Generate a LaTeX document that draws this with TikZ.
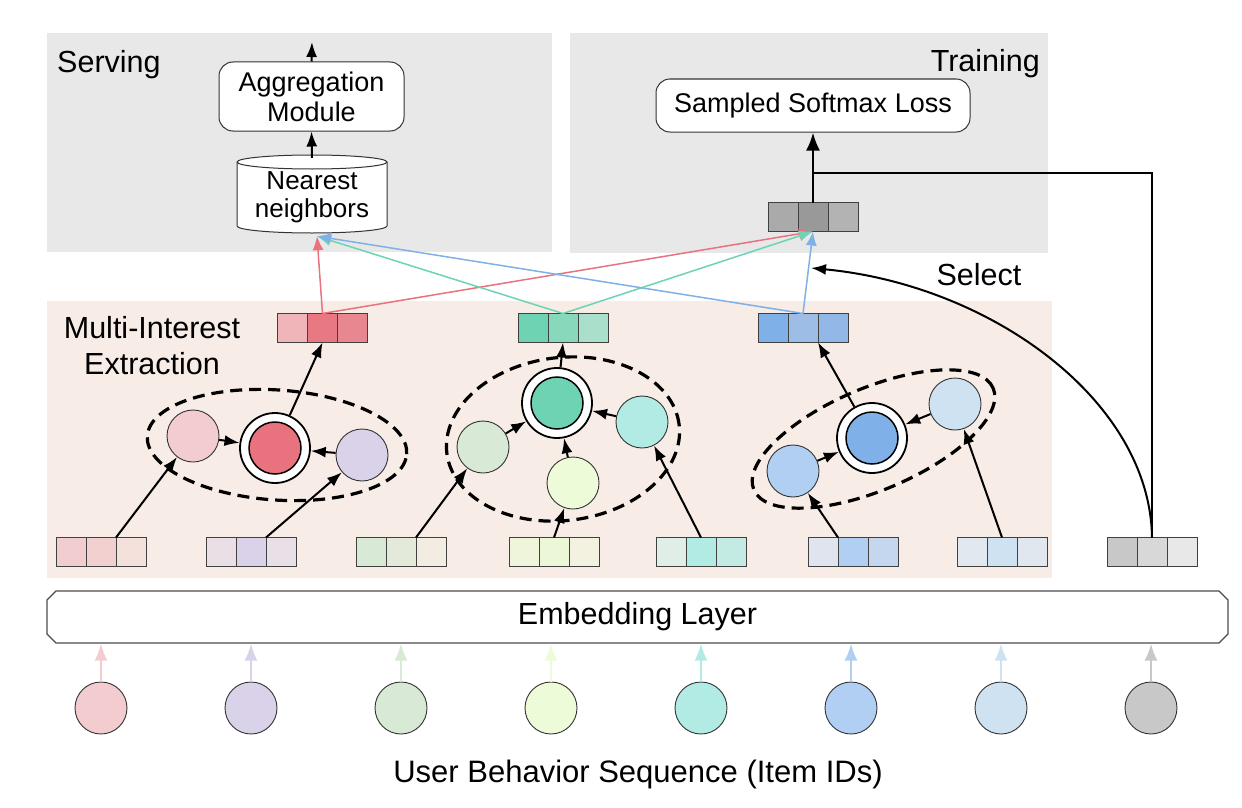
\documentclass[tikz,border=0pt]{standalone}
\usepackage{fontspec}
\setmainfont{Liberation Sans}
\usepackage{tikz}
\usetikzlibrary{arrows.meta,shapes.geometric,shapes.misc}

\definecolor{panelgray}{HTML}{E8E8E8}
\definecolor{peach}{HTML}{F7ECE6}
\definecolor{itemA}{HTML}{F2CCCF}
\definecolor{itemB}{HTML}{D9D2E9}
\definecolor{itemC}{HTML}{D8EAD5}
\definecolor{itemD}{HTML}{EEFBD9}
\definecolor{itemE}{HTML}{B2EAE4}
\definecolor{itemF}{HTML}{B1CFF2}
\definecolor{itemG}{HTML}{CFE2F1}
\definecolor{itemH}{HTML}{C8C8C8}
\definecolor{capR}{HTML}{E8737F}
\definecolor{capG}{HTML}{6DD3B3}
\definecolor{capB}{HTML}{80B0E8}

\tikzset{
  cell/.style={draw=black!75, line width=1pt, minimum width=30, minimum height=29, inner sep=0, outer sep=0},
  item/.style={circle, draw=black!80, line width=0.9pt, minimum size=52, inner sep=0},
  capring/.style={circle, draw, line width=1.8pt, fill=white, minimum size=70, inner sep=0},
  capcore/.style={circle, draw, line width=1.5pt, minimum size=52, inner sep=0},
  cluster/.style={ellipse, draw, line width=3.2pt, dash pattern=on 12pt off 7pt, inner sep=0},
  arr/.style={line width=2pt, -{Latex[length=15pt,width=11pt]}},
  carr/.style={line width=1.5pt, -{Latex[length=14pt,width=11pt]}},
  box/.style={draw=black!80, rounded corners=14pt, fill=white, line width=1pt, align=center, font=\fontsize{27}{30}\selectfont},
  big/.style={font=\fontsize{30.5}{36}\selectfont, inner sep=0},
}

\newcommand{\vecbox}[5]{%
  \definecolor{#1A}{HTML}{#3}\definecolor{#1B}{HTML}{#4}\definecolor{#1C}{HTML}{#5}%
  \node[cell, fill=#1B] (#1-2) at (#2) {};
  \node[cell, fill=#1A, anchor=east] (#1-1) at (#1-2.west) {};
  \node[cell, fill=#1C, anchor=west] (#1-3) at (#1-2.east) {};
}

\begin{document}
\begin{tikzpicture}[x=1pt, y=-1pt]
\useasboundingbox (0,0) rectangle (1242,808);
\fill[panelgray] (47,33) rectangle (552,252);
\fill[panelgray] (570,33) rectangle (1048,253);
\fill[peach] (47,301) rectangle (1052,578);

\node[big, anchor=base west] (serving) at (57,73) {Serving};
\node[big, anchor=base east] (training) at (1040,72) {Training};
\node[big, align=center] (mie) at (152,346) {Multi-Interest\\Extraction};

% serving
\node[box, minimum width=185, minimum height=69] (agg) at (311.5,96.5) {Aggregation\\Module};
\coordinate (aggout) at (312,42);
\draw[fill=white, line width=1pt, draw=black!80] (237,162) -- (237,226) arc[start angle=180, end angle=360, x radius=75pt, y radius=7pt] -- (387,162) arc[start angle=0, end angle=180, x radius=75pt, y radius=7pt] -- cycle;
\draw[line width=1pt, draw=black!80] (237,162) arc[start angle=180, end angle=360, x radius=75pt, y radius=7pt];
\node[font=\fontsize{26}{28}\selectfont, align=center, minimum width=150, minimum height=78, inner sep=0] (nn) at (312,197) {Nearest\\neighbors};
\draw[arr] (nn.north) -- (agg.south);
\draw[arr] (agg.north) -- (aggout);

% training
\node[box, minimum width=314, minimum height=53] (loss) at (813,105.5) {Sampled Softmax Loss};
\vecbox{tv}{813,217}{AAAAAA}{999999}{B3B3B3}
\draw[line width=2.5pt, -{Latex[length=18pt,width=14pt]}] (tv-2.north) -- (loss.south);

% interests
\vecbox{rv}{322.5,328}{F0B5B8}{E87882}{E8878F}
\vecbox{gv}{563,328}{6DD3B3}{88D9BB}{AADFCB}
\vecbox{bv}{803,328}{7FB0E8}{9DBDE6}{91B8E6}

\node[cluster, minimum width=260, minimum height=110, rotate=-4] (cl1) at (277,445) {};
\node[cluster, minimum width=234, minimum height=163, rotate=7] (cl2) at (563,439) {};
\node[cluster, minimum width=260, minimum height=102, rotate=23] (cl3) at (873.5,439) {};

\node[item, fill=itemA] (p1) at (193,436) {};
\node[item, fill=itemB] (p2) at (362,455) {};
\node[capring] (cap1) at (275,448) {};
\node[capcore, fill=capR] (cap1c) at (275,448) {};

\node[item, fill=itemC] (g1) at (483,447) {};
\node[item, fill=itemD] (g2) at (573,483) {};
\node[item, fill=itemE] (g3) at (642,422) {};
\node[capring] (cap2) at (557,403) {};
\node[capcore, fill=capG] (cap2c) at (557,403) {};

\node[item, fill=itemF] (b1) at (793,471) {};
\node[item, fill=itemG] (b2) at (955,404) {};
\node[capring] (cap3) at (872,438) {};
\node[capcore, fill=capB] (cap3c) at (872,438) {};

\draw[arr] (p1) -- (cap1);
\draw[arr] (p2) -- (cap1);
\draw[arr] (cap1) -- (rv-2.south);
\draw[arr] (g1) -- (cap2);
\draw[arr] (g2) -- (cap2);
\draw[arr] (g3) -- (cap2);
\draw[arr] (cap2) -- (gv-2.south);
\draw[arr] (b1) -- (cap3);
\draw[arr] (b2) -- (cap3);
\draw[arr] (cap3) -- (bv-2.south east);

\vecbox{v1}{101,552}{F2CDD0}{F2D0D0}{F5E1DB}
\vecbox{v2}{251,552}{EBDFE6}{D9D2E9}{E8DFE7}
\vecbox{v3}{401,552}{D8EAD5}{E3EAD9}{F3EDE1}
\vecbox{v4}{554,552}{EFF5DB}{EBF7D6}{F3F2E1}
\vecbox{v5}{701,552}{E0EEE8}{B2EAE4}{C4EBE3}
\vecbox{v6}{853,552}{E0E4EE}{B1CFF2}{C4D7EE}
\vecbox{v7}{1002,552}{E2E8EF}{CFE2F1}{E0E7EF}
\vecbox{v8}{1152,552}{C8C8C8}{D8D8D8}{E8E8E8}

\draw[arr] (v1-2.north east) -- (p1);
\draw[arr] (v2-2.north east) -- (p2);
\draw[arr] (v3-2.north east) -- (g1);
\draw[arr] (v4-2.north) -- (g2);
\draw[arr] (v5-2.north) -- (g3);
\draw[arr] (v6-2.north west) -- (b1);
\draw[arr] (v7-2.north) -- (b2);

\draw[carr, capR] (rv-2.north) -- ([xshift=5pt]nn.south);
\draw[carr, capR] (rv-2.north) -- (tv-2.south);
\draw[carr, capG] (gv-2.north) -- ([xshift=5pt]nn.south);
\draw[carr, capG] (gv-2.north) -- (tv-2.south);
\draw[carr, capB] (bv-2.north) -- ([xshift=5pt]nn.south);
\draw[carr, capB] (bv-2.north) -- (tv-2.south);

% select
\coordinate (br) at (813,173);
\coordinate (selin) at (811,268);
\draw[line width=2pt] (br) -| (v8-2.north);
\draw[arr] (v8-2.north) .. controls (1150,400) and (990,285) .. (selin);
\node[big, anchor=base] (select) at (979,285) {Select};

% embedding
\node[chamfered rectangle, chamfered rectangle sep=4.5pt, draw=black!70, line width=1.3pt, fill=white, minimum width=1181, minimum height=52, inner sep=0, font=\fontsize{30.5}{36}\selectfont] (emb) at (637.5,617) {Embedding Layer};
\foreach \i/\c in {1/itemA,2/itemB,3/itemC,4/itemD,5/itemE,6/itemF,7/itemG,8/itemH} {
  \node[item, fill=\c] (it\i) at ({101+150*(\i-1)},708) {};
  \draw[line width=2pt, \c, -{Latex[length=17pt,width=13pt]}] (it\i) -- (it\i |- emb.south);
}
\node[big, font=\fontsize{31}{36}\selectfont, anchor=base] (ubs) at (638,782) {User Behavior Sequence (Item IDs)};
\end{tikzpicture}
\end{document}
